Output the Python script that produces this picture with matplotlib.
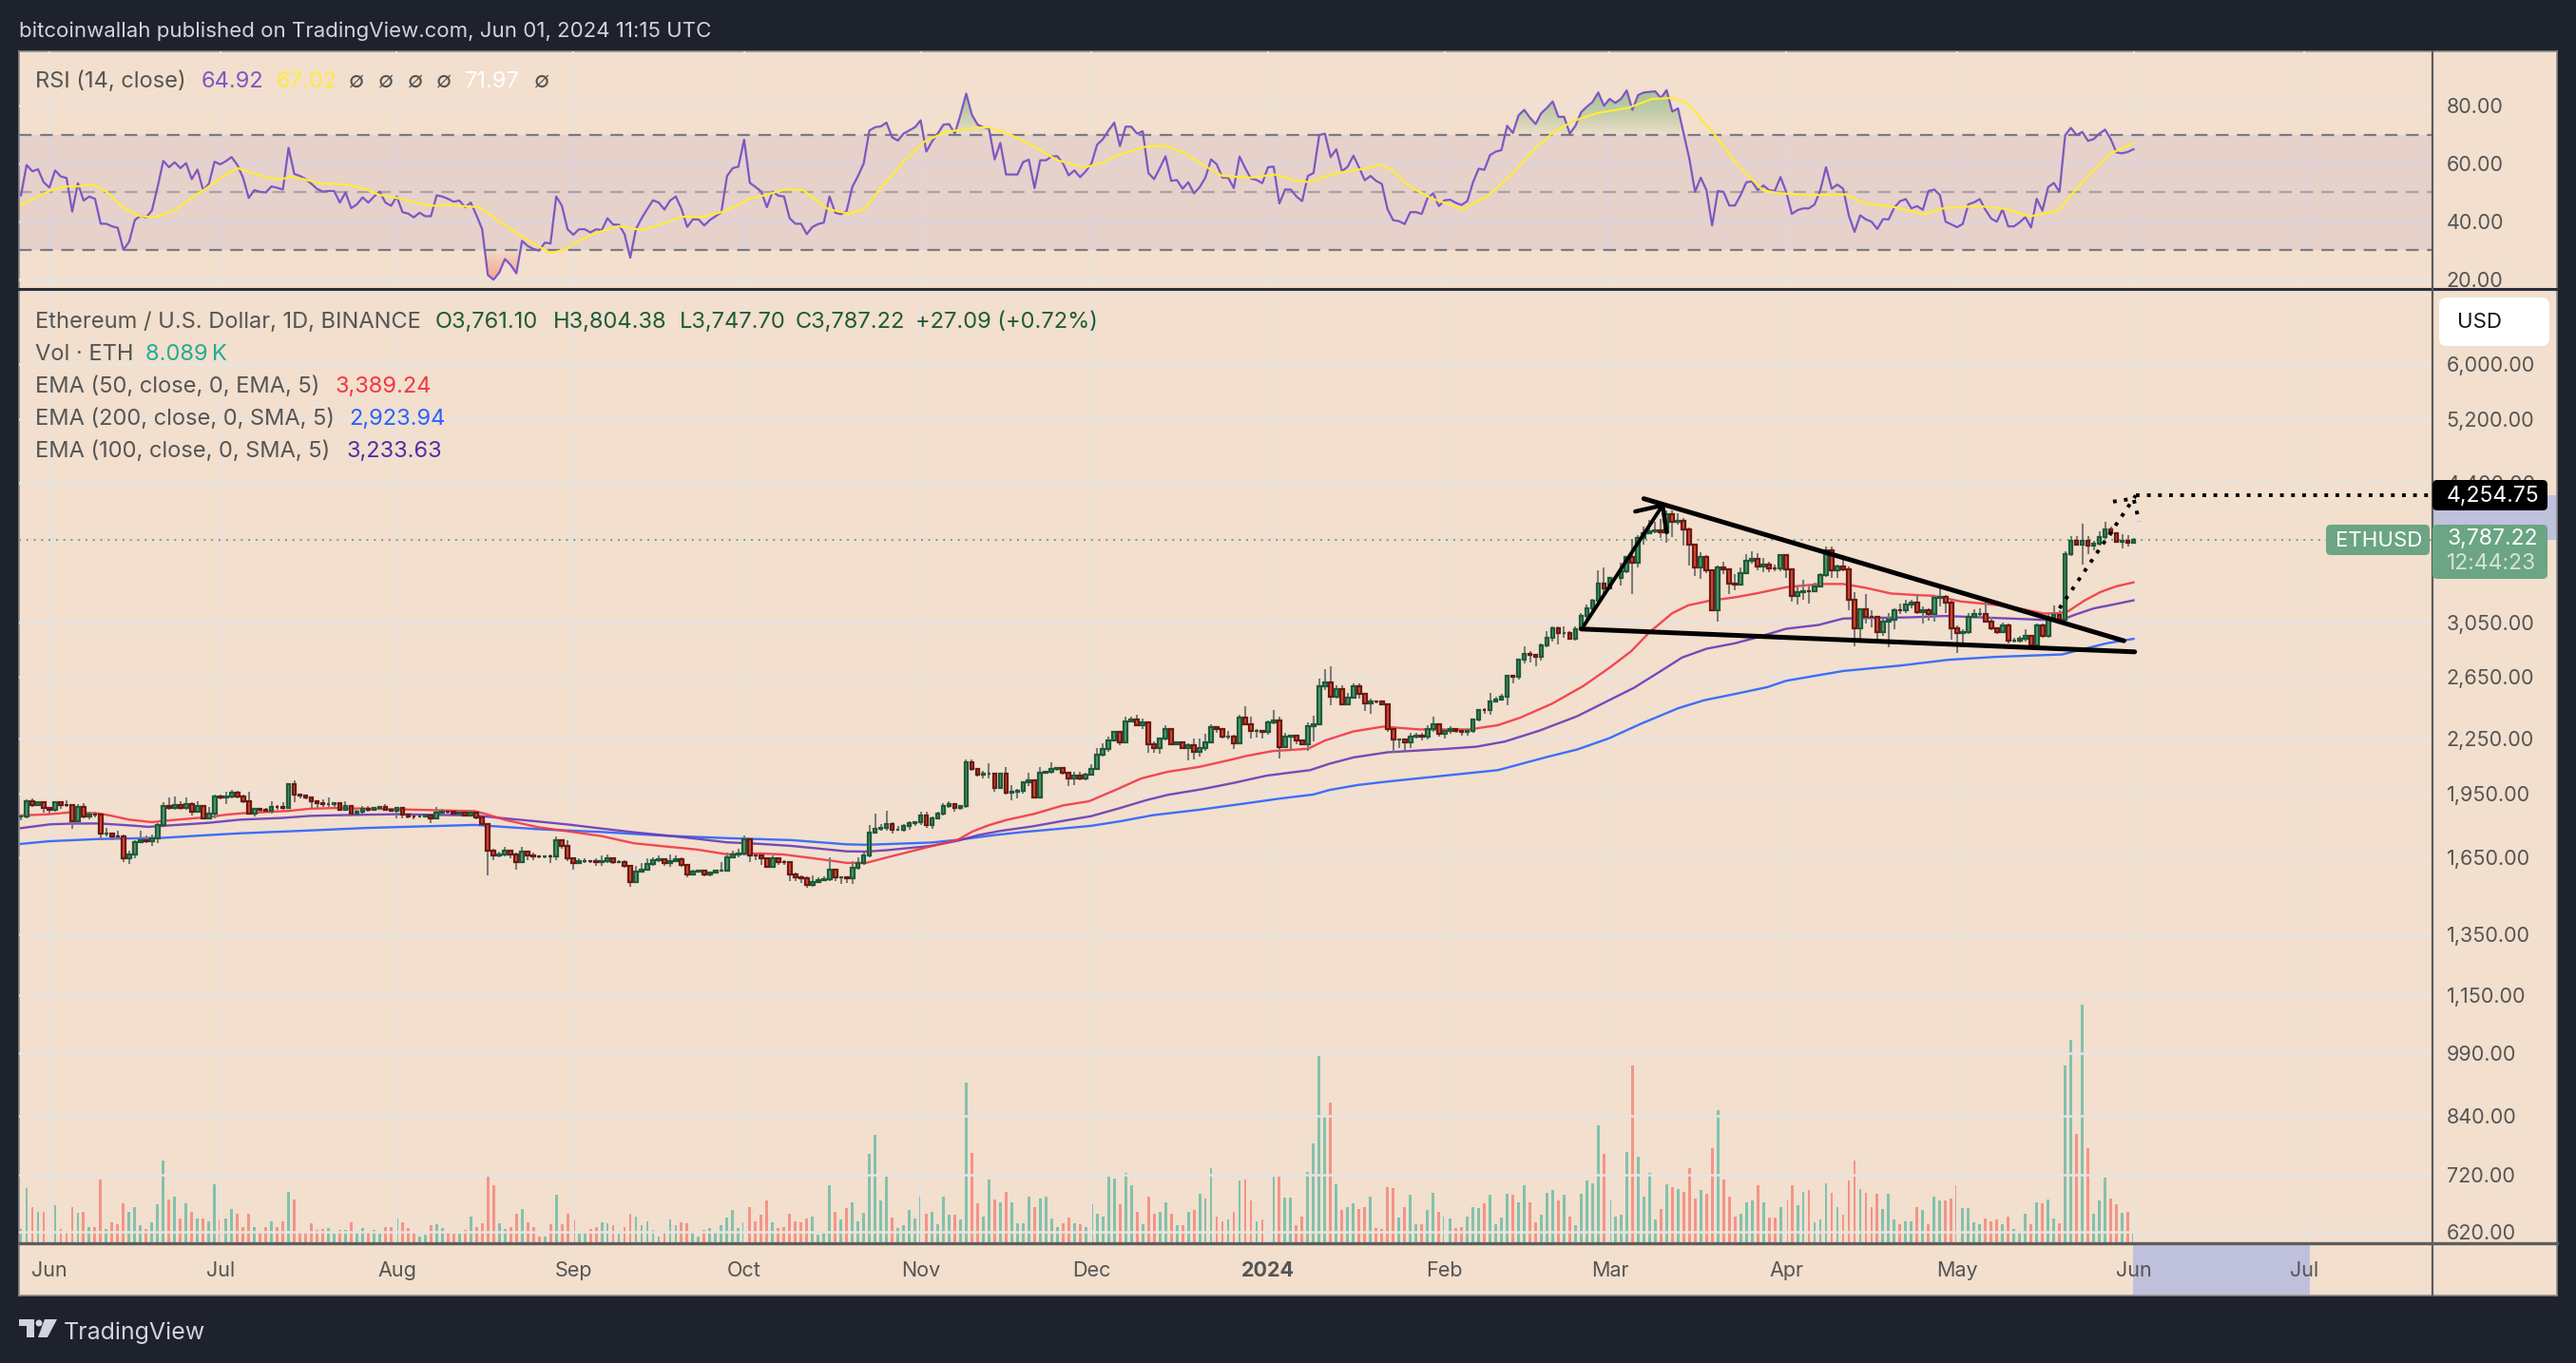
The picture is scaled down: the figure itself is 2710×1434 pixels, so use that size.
"""ETH/USD daily TradingView chart with RSI pane, EMAs, volume and wedge drawing."""

import numpy as np
import matplotlib
matplotlib.use("Agg")
import matplotlib.pyplot as plt
from matplotlib.patches import FancyBboxPatch, Polygon, Rectangle, Circle

plt.rcParams["font.family"] = ["Inter", "DejaVu Sans"]

W, H = 2710, 1434
DARK = "#1e222d"
PANE = "#f2dfcd"
GRID = "#e8e4df"
LABEL = "#555555"
UP_BODY, UP_EDGE = "#55996f", "#1e5b3a"
DOWN_BODY, DOWN_EDGE = "#d8493a", "#6b1a12"

# Day numbers count from 1 Jun 2023; the series runs 27 May 2023 .. 1 Jun 2024.
first_day = -5
first_open = 1835.0

closes = [
    1838, 1912, 1894, 1906, 1878, 1870, 1908, 1894, 1892, 1815,
    1882, 1835, 1848, 1846, 1755, 1757, 1745, 1743, 1647, 1665,
    1719, 1728, 1724, 1737, 1795, 1890, 1877, 1893, 1878, 1897,
    1861, 1888, 1830, 1852, 1935, 1932, 1938, 1953, 1935, 1912,
    1850, 1872, 1870, 1866, 1885, 1883, 1878, 1998, 1943, 1940,
    1932, 1912, 1900, 1897, 1899, 1900, 1870, 1888, 1852, 1860,
    1875, 1870, 1878, 1885, 1868, 1865, 1877, 1845, 1838, 1835,
    1838, 1840, 1830, 1855, 1860, 1858, 1853, 1854, 1843, 1856,
    1833, 1803, 1680, 1660, 1664, 1680, 1664, 1631, 1675, 1658,
    1655, 1653, 1656, 1654, 1725, 1700, 1645, 1627, 1635, 1635,
    1633, 1632, 1633, 1648, 1631, 1631, 1615, 1548, 1590, 1600,
    1623, 1640, 1642, 1625, 1635, 1642, 1620, 1578, 1590, 1595,
    1578, 1585, 1594, 1596, 1650, 1663, 1667, 1730, 1660, 1658,
    1648, 1609, 1645, 1632, 1630, 1578, 1565, 1563, 1537, 1548,
    1554, 1560, 1597, 1565, 1565, 1563, 1605, 1628, 1658, 1760,
    1778, 1785, 1800, 1775, 1776, 1790, 1805, 1810, 1842, 1797,
    1829, 1850, 1888, 1897, 1881, 1888, 2118, 2078, 2052, 2053,
    2055, 1978, 2053, 1957, 1960, 1964, 2010, 2020, 1933, 2060,
    2063, 2080, 2087, 2062, 2027, 2045, 2030, 2048, 2080, 2162,
    2190, 2240, 2290, 2232, 2353, 2365, 2335, 2350, 2220, 2198,
    2254, 2310, 2217, 2232, 2195, 2213, 2175, 2197, 2232, 2320,
    2308, 2262, 2265, 2225, 2377, 2340, 2297, 2300, 2292, 2350,
    2360, 2202, 2265, 2270, 2240, 2222, 2325, 2340, 2580, 2610,
    2516, 2565, 2466, 2505, 2585, 2530, 2468, 2485, 2480, 2465,
    2308, 2245, 2248, 2230, 2266, 2270, 2262, 2310, 2340, 2280,
    2300, 2310, 2300, 2295, 2297, 2368, 2430, 2425, 2485, 2495,
    2510, 2656, 2645, 2772, 2810, 2805, 2790, 2875, 2935, 3005,
    2968, 2970, 2925, 2995, 3108, 3170, 3230, 3378, 3335, 3425,
    3430, 3490, 3624, 3570, 3805, 3855, 3870, 3880, 3860, 4053,
    3973, 3980, 3895, 3737, 3520, 3625, 3500, 3155, 3525, 3510,
    3375, 3372, 3470, 3590, 3600, 3530, 3550, 3515, 3512, 3640,
    3505, 3273, 3305, 3315, 3312, 3350, 3451, 3688, 3500, 3530,
    3505, 3235, 3007, 3156, 3100, 3095, 2978, 3060, 3070, 3155,
    3150, 3195, 3215, 3135, 3155, 3120, 3253, 3260, 3215, 3005,
    2965, 2975, 3100, 3120, 3122, 3060, 3005, 2975, 3030, 2907,
    2910, 2925, 2945, 2875, 3030, 2945, 3090, 3110, 3070, 3651,
    3781, 3740, 3780, 3730, 3750, 3820, 3890, 3850, 3770, 3775,
    3761.10, 3787.22,
]

highs = [
    1845, 1920, 1927, 1912, 1912, 1885, 1912, 1912, 1918, 1897,
    1897, 1900, 1860, 1860, 1850, 1785, 1763, 1770, 1753, 1680,
    1725, 1770, 1750, 1752, 1804, 1905, 1932, 1935, 1912, 1930,
    1905, 1912, 1892, 1882, 1945, 1945, 1960, 1972, 1965, 1945,
    1958, 1875, 1877, 1877, 1910, 1893, 1905, 2005, 2020, 1946,
    1940, 1935, 1912, 1920, 1930, 1902, 1900, 1910, 1893, 1870,
    1890, 1890, 1885, 1890, 1896, 1878, 1882, 1882, 1850, 1845,
    1842, 1843, 1845, 1882, 1875, 1865, 1860, 1860, 1870, 1860,
    1850, 1835, 1805, 1690, 1675, 1695, 1682, 1670, 1695, 1680,
    1670, 1660, 1658, 1662, 1745, 1732, 1725, 1650, 1645, 1645,
    1640, 1645, 1660, 1665, 1652, 1640, 1640, 1620, 1615, 1625,
    1645, 1650, 1660, 1640, 1665, 1660, 1650, 1622, 1600, 1598,
    1595, 1590, 1600, 1630, 1670, 1680, 1690, 1750, 1735, 1668,
    1660, 1640, 1660, 1650, 1640, 1635, 1585, 1575, 1570, 1575,
    1565, 1570, 1650, 1600, 1570, 1570, 1635, 1650, 1670, 1797,
    1853, 1800, 1864, 1810, 1790, 1800, 1815, 1812, 1860, 1862,
    1835, 1860, 1900, 1910, 1895, 1892, 2132, 2135, 2080, 2070,
    2112, 2055, 2060, 2090, 1995, 1975, 2012, 2060, 2020, 2090,
    2070, 2118, 2090, 2090, 2065, 2065, 2065, 2060, 2105, 2195,
    2225, 2265, 2300, 2300, 2385, 2385, 2400, 2375, 2350, 2235,
    2260, 2330, 2315, 2235, 2235, 2225, 2255, 2250, 2280, 2340,
    2320, 2315, 2300, 2275, 2400, 2450, 2385, 2310, 2300, 2360,
    2430, 2385, 2285, 2275, 2270, 2245, 2350, 2390, 2637, 2700,
    2720, 2590, 2590, 2540, 2605, 2600, 2530, 2500, 2490, 2490,
    2465, 2310, 2255, 2250, 2285, 2285, 2285, 2330, 2383, 2340,
    2305, 2325, 2310, 2310, 2310, 2375, 2435, 2440, 2536, 2515,
    2535, 2660, 2660, 2775, 2870, 2830, 2810, 2890, 2985, 3020,
    3020, 3020, 2985, 3020, 3130, 3195, 3250, 3497, 3520, 3440,
    3450, 3570, 3635, 3800, 3835, 3920, 3990, 3970, 4000, 4090,
    4090, 4060, 4010, 3910, 3750, 3670, 3640, 3510, 3540, 3580,
    3510, 3460, 3520, 3650, 3680, 3660, 3610, 3575, 3550, 3650,
    3640, 3510, 3365, 3410, 3360, 3390, 3470, 3720, 3725, 3555,
    3640, 3530, 3300, 3170, 3287, 3150, 3100, 3080, 3130, 3165,
    3210, 3240, 3240, 3280, 3180, 3170, 3270, 3350, 3280, 3230,
    3030, 3000, 3125, 3160, 3170, 3225, 3100, 3010, 3050, 3040,
    2930, 2945, 3000, 2945, 3045, 3040, 3120, 3190, 3150, 3680,
    3830, 3830, 3950, 3830, 3780, 3870, 3975, 3920, 3865, 3840,
    3835, 3804.38,
]

lows = [
    1820, 1830, 1885, 1890, 1855, 1850, 1860, 1875, 1885, 1780,
    1808, 1830, 1825, 1833, 1725, 1745, 1725, 1730, 1630, 1622,
    1645, 1715, 1715, 1700, 1712, 1792, 1870, 1870, 1870, 1870,
    1842, 1855, 1822, 1825, 1830, 1920, 1897, 1928, 1928, 1900,
    1845, 1835, 1860, 1860, 1850, 1870, 1870, 1875, 1908, 1928,
    1920, 1880, 1880, 1885, 1882, 1885, 1865, 1865, 1837, 1850,
    1850, 1860, 1868, 1880, 1863, 1860, 1828, 1828, 1830, 1825,
    1835, 1835, 1807, 1828, 1850, 1850, 1845, 1845, 1840, 1845,
    1825, 1795, 1574, 1640, 1650, 1655, 1645, 1600, 1630, 1640,
    1640, 1645, 1645, 1625, 1640, 1690, 1635, 1600, 1625, 1625,
    1625, 1615, 1615, 1625, 1622, 1625, 1608, 1530, 1545, 1585,
    1595, 1615, 1630, 1615, 1610, 1632, 1610, 1565, 1575, 1585,
    1570, 1570, 1585, 1590, 1595, 1645, 1650, 1660, 1630, 1640,
    1620, 1608, 1605, 1620, 1620, 1550, 1550, 1545, 1525, 1528,
    1545, 1550, 1550, 1550, 1540, 1545, 1540, 1598, 1620, 1650,
    1755, 1770, 1770, 1755, 1770, 1765, 1775, 1790, 1795, 1785,
    1780, 1825, 1840, 1878, 1860, 1870, 1880, 2070, 2040, 2030,
    2028, 1960, 1980, 1945, 1915, 1925, 1950, 1990, 1930, 1932,
    2055, 2055, 2070, 2050, 1990, 1995, 2020, 2020, 2050, 2078,
    2150, 2175, 2235, 2215, 2225, 2350, 2330, 2310, 2170, 2170,
    2165, 2240, 2215, 2215, 2190, 2130, 2135, 2150, 2180, 2240,
    2285, 2255, 2245, 2190, 2225, 2335, 2255, 2260, 2255, 2275,
    2340, 2140, 2195, 2190, 2220, 2215, 2180, 2235, 2335, 2560,
    2458, 2500, 2465, 2465, 2500, 2500, 2420, 2405, 2470, 2460,
    2290, 2171, 2195, 2180, 2200, 2255, 2240, 2245, 2295, 2265,
    2250, 2280, 2285, 2270, 2270, 2285, 2355, 2405, 2400, 2475,
    2490, 2460, 2600, 2630, 2745, 2750, 2720, 2765, 2860, 2900,
    2880, 2930, 2915, 2910, 2985, 3070, 3140, 3210, 3295, 3330,
    3400, 3360, 3475, 3290, 3525, 3745, 3840, 3850, 3810, 3760,
    3820, 3945, 3730, 3540, 3450, 3420, 3470, 3150, 3060, 3460,
    3290, 3320, 3370, 3465, 3560, 3500, 3480, 3480, 3490, 3490,
    3425, 3220, 3200, 3240, 3210, 3320, 3345, 3440, 3430, 3430,
    3490, 3150, 2870, 2910, 3040, 3010, 2910, 2950, 2860, 3000,
    3120, 3130, 3170, 3120, 3040, 3065, 3060, 3180, 3130, 2915,
    2819, 2890, 2960, 3100, 3090, 3050, 2990, 2960, 2965, 2890,
    2895, 2895, 2900, 2860, 2865, 2930, 2935, 3070, 3060, 3045,
    3630, 3735, 3550, 3645, 3690, 3730, 3800, 3830, 3760, 3700,
    3720, 3747.70,
]

# volume, thousands of ETH
volumes = [
    11, 46, 30, 26, 26, 21, 31, 11, 9, 30,
    25, 26, 13, 13, 53, 11, 17, 15, 33, 26,
    30, 14, 11, 17, 32, 69, 36, 39, 20, 33,
    26, 20, 20, 18, 49, 19, 20, 28, 24, 13,
    24, 13, 9, 13, 18, 13, 18, 43, 36, 9,
    9, 16, 10, 11, 12, 7, 10, 10, 17, 8,
    12, 9, 10, 7, 13, 13, 20, 17, 12, 9,
    5, 6, 14, 15, 12, 9, 7, 7, 10, 22,
    13, 16, 56, 48, 16, 11, 13, 24, 28, 17,
    13, 5, 5, 15, 40, 15, 24, 19, 7, 9,
    11, 13, 17, 16, 14, 7, 13, 24, 22, 14,
    18, 10, 5, 8, 19, 14, 17, 16, 8, 5,
    10, 12, 9, 14, 21, 27, 12, 17, 30, 18,
    23, 35, 17, 12, 13, 24, 18, 17, 20, 22,
    6, 9, 48, 26, 19, 29, 34, 18, 25, 75,
    91, 35, 56, 21, 12, 14, 27, 20, 39, 24,
    26, 15, 39, 23, 23, 19, 136, 76, 33, 22,
    53, 36, 34, 43, 34, 16, 16, 39, 30, 37,
    39, 20, 13, 16, 21, 16, 15, 13, 32, 24,
    22, 56, 54, 32, 59, 48, 26, 15, 39, 24,
    26, 34, 24, 14, 14, 26, 27, 41, 37, 63,
    22, 18, 19, 26, 52, 53, 35, 18, 19, 18,
    56, 56, 38, 38, 14, 22, 60, 84, 158, 107,
    119, 49, 27, 30, 33, 28, 30, 39, 12, 11,
    47, 46, 21, 30, 40, 15, 15, 27, 42, 26,
    22, 20, 12, 13, 22, 30, 29, 33, 40, 15,
    21, 41, 40, 34, 48, 34, 17, 23, 42, 44,
    35, 40, 22, 14, 41, 52, 50, 99, 75, 35,
    22, 23, 77, 150, 73, 39, 59, 19, 28, 49,
    47, 45, 43, 63, 37, 44, 41, 80, 112, 53,
    39, 22, 24, 34, 35, 48, 34, 21, 21, 30,
    36, 48, 31, 43, 44, 17, 19, 50, 42, 30,
    23, 52, 69, 45, 42, 30, 41, 28, 41, 19,
    15, 18, 18, 30, 27, 15, 39, 35, 35, 37,
    48, 29, 29, 17, 15, 20, 18, 19, 15, 22,
    11, 9, 24, 15, 34, 33, 36, 20, 16, 150,
    172, 92, 202, 80, 24, 35, 55, 37, 32, 25,
    26, 8.089,
]

rsi = [
    49, 59.5, 57.3, 58, 53.5, 51.7, 57.6, 55.5, 55, 43.4,
    53.2, 47.2, 48.6, 47.8, 39.2, 39.2, 38.3, 37.8, 30.2, 33,
    40.5, 42, 41.4, 43.8, 51.9, 60.9, 58.7, 60.4, 58.4, 60.1,
    54.6, 57.9, 50.8, 53, 60.6, 59.7, 60.8, 62.2, 59.5, 55.1,
    48.1, 50.8, 50.2, 50, 52.1, 51.6, 51, 65.4, 56.4, 55.7,
    54.6, 53, 51.2, 50.3, 50.5, 50.5, 46.5, 50, 44.6, 45.9,
    48.3, 46.5, 48.6, 50.3, 46.5, 45.4, 48.6, 43.2, 42.7, 41.4,
    43, 41.8, 41.8, 49, 48.6, 47.8, 46.8, 47.2, 44.9, 46.5,
    42.1, 37.3, 21.5, 19.9, 22.4, 27, 25, 22.1, 33.3, 31.5,
    30.5, 29.9, 32.7, 32.4, 48.6, 45.4, 37.3, 35.4, 37.3, 37.3,
    36.2, 37.3, 37, 41.1, 38.9, 38.9, 35.6, 27.5, 37.3, 41.1,
    44.3, 47.3, 46.5, 44.1, 47.2, 48.6, 44.3, 38.1, 40.7, 40.7,
    38.6, 40.5, 41.8, 43.2, 55.7, 58.4, 58.9, 68.2, 53.3, 51.9,
    50.3, 44.9, 50.3, 48.9, 48.6, 41.1, 39.2, 39.2, 35.6, 38.1,
    39.1, 39.6, 48.6, 43, 42.5, 43.6, 51.9, 55.7, 60, 71.4,
    72.5, 72.8, 74.1, 69, 67.9, 70.3, 71.4, 72.5, 74.9, 64.1,
    67.6, 70.3, 73.4, 73.6, 70.3, 76.8, 84.1, 76.8, 73.4, 72.5,
    72, 61.4, 67.1, 56.2, 56.2, 56.2, 60.5, 61.3, 51.5, 61.1,
    61.1, 62.4, 62.5, 60, 55.9, 57.6, 55.3, 57.3, 60, 66.5,
    68.4, 71.4, 74.1, 66, 72.7, 72.7, 70.3, 71.1, 56.7, 54.6,
    58.4, 62.5, 54, 54.3, 51.3, 53.5, 49.7, 51.8, 55.1, 61.4,
    59.7, 55.1, 55.1, 51.5, 62.4, 58.4, 54.8, 54.3, 53.2, 58.7,
    58.9, 46.2, 51, 51, 48.6, 47, 55.7, 56.7, 69.8, 70.3,
    62.2, 64.9, 57.3, 58.9, 62.7, 58.6, 54.2, 55.7, 54, 52.9,
    44.2, 40.4, 40.1, 39.1, 43.2, 43.2, 42.6, 48, 49.7, 45.3,
    47.3, 47.5, 46.4, 45.7, 47, 53.5, 58.2, 57.8, 62.9, 64.1,
    64.6, 73, 70.5, 76.6, 78.5, 75.8, 73.6, 77.4, 79.2, 81.4,
    76.1, 76.1, 70.3, 73, 77.7, 79.6, 81.2, 84.5, 79.9, 82.3,
    80.9, 82.3, 85.2, 78.5, 83.6, 84.5, 84.7, 84.9, 82.6, 85.3,
    77.9, 79, 70.3, 61.6, 50.2, 55.1, 50.8, 38.6, 50.5, 50.2,
    45.5, 45.5, 49.1, 53.5, 53.8, 50.8, 52.4, 50.8, 50.5, 55.3,
    50.2, 42.6, 43.9, 44.5, 44.5, 45.9, 50.8, 58.7, 51.3, 52.7,
    51.3, 42.1, 36.4, 42.1, 40.7, 39.9, 37.4, 40.8, 40.7, 44.8,
    47, 47.7, 44.5, 45.3, 44, 50.5, 51, 49.1, 39.9, 39,
    38, 39.1, 45.9, 46.6, 47.7, 44, 41, 39.9, 44.2, 38.3,
    38.3, 39.7, 41.5, 37.9, 47.8, 43.7, 51.8, 53.3, 50.2, 69.8,
    72.3, 69.8, 70.9, 67.8, 68.4, 70.3, 71.7, 68.4, 63.8, 63.5,
    64, 64.92,
]

# RSI moving average, read at its bends
rsi_ma_days = [
    -5, -2.3, 0.4, 3, 5.2, 7.8, 10, 12.6, 15.3, 18, 20, 22.2, 24.9, 27.5, 30.7, 33,
    35.5, 38.2, 40.8, 42.4, 44.6, 47.8, 52, 55.2, 57.9, 61, 63.7, 66.9, 70.1, 75.5,
    79.7, 84, 88, 90.4, 92.5, 96.2, 100, 104.2, 107.4, 111.1, 114.9, 118, 120.7,
    122.8, 126, 129.2, 132.4, 136.7, 140.4, 143.1, 145.7, 150, 153.7, 157.5, 162.5,
    165, 168.7, 172.8, 177, 181.8, 185.3, 187.4, 192.2, 196, 199.1, 202.6, 206,
    210.9, 215.3, 218.5, 221, 226.1, 230.3, 233.7, 235.8, 238.6, 242.7, 248.3,
    252.4, 256.6, 260.7, 264.2, 267.7, 271.8, 277.3, 281.5, 285, 287.7, 291.9,
    296.7, 300.9, 303.7, 309.2, 315.4, 318.9, 324.4, 329.3, 332.7, 339, 343.8,
    347.7, 352.8, 356.2, 361.8, 366,
]
rsi_ma_vals = [
    45.6, 48.4, 50.8, 52.1, 52.1, 52.8, 50.3, 45.4, 42.1, 41.4, 42.4, 44, 48.1, 51.4,
    55.7, 58.4, 56.8, 55.1, 54.6, 55.5, 54.6, 53, 52.8, 51.4, 49.2, 48.1, 46.8, 45.4,
    45.6, 44.9, 39.1, 33.5, 29.1, 30.2, 32.9, 36.2, 38.3, 37, 39.1, 41.6, 41.6, 43.2,
    45.4, 47.8, 49.2, 51.1, 50.8, 44.3, 42.7, 44.3, 50.8, 60.6, 67.6, 70.9, 72.3,
    72.5, 70, 66, 61.1, 58.6, 60.5, 62.7, 65.7, 66.2, 63.8, 59.5, 55.7, 55.1, 56.2,
    54.2, 53.6, 56.7, 58, 59.5, 57.8, 52.4, 48, 44.2, 48.6, 55.7, 64.9, 70.9, 74.7,
    77.4, 79.2, 82.3, 82.6, 80.7, 71.4, 58.9, 50.8, 49.7, 49.1, 49.3, 46.2, 44.8,
    42.4, 44.6, 45.3, 44.2, 41.7, 43.7, 51.8, 63.3, 67.02,
]

# moving averages, read at their bends
ema50_days = [
    -5, 0, 3.6, 8.6, 11, 14, 18, 20.8, 24.7, 28, 30.8, 33.5, 39, 42, 45.8, 50, 55.8, 61,
    67, 74.7, 76.4, 80, 85.9, 91.4, 97, 102.6, 108, 113.7, 119, 124.8, 129, 136, 140,
    143.4, 147, 154.8, 159.5, 162, 164.8, 168, 173, 178, 182.6, 187.6, 191.7, 196.4,
    202, 207.6, 210.3, 214.8, 221, 224, 229, 234.2, 240.6, 249.4, 254.4, 258.3, 263.9,
    269.4, 273.9, 277.8, 281, 285, 287.8, 291.7, 296, 300, 305, 311, 315, 319, 323.4,
    328, 330.7, 335.7, 341.3, 344.6, 350.2, 353, 354.6, 357.4, 360.2, 363, 366,
]
ema50_vals = [
    1842, 1848, 1857, 1852, 1840, 1822, 1810, 1818, 1827, 1834, 1845, 1852, 1860, 1864,
    1875, 1878, 1875, 1872, 1868, 1863, 1851, 1821, 1786, 1766, 1745, 1713, 1699, 1685,
    1664, 1668, 1663, 1641, 1627, 1627, 1650, 1699, 1728, 1765, 1794, 1820, 1850, 1891,
    1912, 1974, 2029, 2065, 2092, 2132, 2153, 2180, 2193, 2241, 2295, 2324, 2307, 2307,
    2333, 2379, 2468, 2585, 2709, 2831, 2975, 3127, 3192, 3232, 3259, 3295, 3347, 3375,
    3375, 3341, 3292, 3278, 3273, 3224, 3198, 3179, 3124, 3127, 3145, 3232, 3305, 3355,
    3389.24,
]
ema100_days = [
    -5, 0.2, 3.6, 8.6, 14, 17.4, 22.4, 28, 33.5, 40.8, 45.8, 50, 61, 74.7, 80, 85.9,
    91.4, 97, 102.6, 108, 113.7, 119, 124.8, 130.3, 136, 140, 143.6, 147, 154.8, 159.5,
    163, 167, 172.6, 178, 183, 188, 192.6, 196.4, 202.6, 208, 213.7, 217, 221.4, 224.8,
    229, 235, 245, 250.6, 255.6, 261.7, 268.3, 273.9, 278.3, 282.8, 286.7, 291, 296,
    300, 305, 310.7, 315, 319.6, 326.8, 332.9, 339, 344.6, 350, 353.5, 355.7, 359,
    362.4, 366,
]
ema100_vals = [
    1782, 1800, 1803, 1804, 1795, 1788, 1797, 1807, 1822, 1830, 1840, 1843, 1848, 1842,
    1828, 1813, 1798, 1780, 1763, 1749, 1733, 1717, 1710, 1701, 1687, 1677, 1676, 1682,
    1701, 1724, 1749, 1769, 1790, 1816, 1839, 1878, 1917, 1944, 1974, 2006, 2044, 2057,
    2074, 2109, 2144, 2173, 2192, 2205, 2235, 2300, 2388, 2490, 2573, 2683, 2784, 2849,
    2890, 2936, 3002, 3032, 3083, 3088, 3093, 3104, 3093, 3083, 3073, 3075, 3114, 3166,
    3198, 3233.63,
]
ema200_days = [
    -5, 0, 8.6, 19.7, 28, 33.5, 44.7, 55.8, 74.7, 85.9, 97, 108, 119, 130.3, 140, 143.6,
    154.8, 159.5, 166, 171.4, 177, 183, 188, 193.7, 202, 210.3, 216, 222, 224.8, 229.8,
    235, 254.4, 262.8, 268.3, 273.9, 279.4, 286, 290.6, 296, 301.7, 305, 315, 325.2,
    333.5, 341.8, 353.5, 355.7, 361.3, 366,
]
ema200_vals = [
    1710, 1722, 1732, 1737, 1750, 1758, 1770, 1783, 1797, 1777, 1764, 1747, 1736, 1727,
    1708, 1706, 1716, 1728, 1750, 1765, 1778, 1793, 1814, 1843, 1870, 1902, 1925, 1946,
    1969, 1995, 2013, 2074, 2145, 2189, 2254, 2340, 2438, 2490, 2531, 2577, 2620, 2688,
    2727, 2768, 2789, 2807, 2831, 2890, 2923.94,
]

price_ticks = [6000, 5200, 4400, 3050, 2650, 2250, 1950, 1650, 1350, 1150, 990, 840, 720, 620]
rsi_ticks = [80, 60, 40, 20]
month_days = [0, 30, 61, 92, 122, 153, 183, 214, 245, 274, 305, 335, 366, 396]
month_labels = ["Jun", "Jul", "Aug", "Sep", "Oct", "Nov", "Dec", "2024",
                "Feb", "Mar", "Apr", "May", "Jun", "Jul"]

# hand-drawn wedge, arrow and projection
wedge_top = ([280, 364.3], [4219, 2909])
wedge_bottom = ([269, 366.2], [3000, 2826])
arrow_shaft = ([269.5, 283.3], [3028, 4146])
arrow_head = ([278.5, 283.3, 284], [4080, 4146, 3864])
projection = ([353, 366.4], [3167, 4254.75])
projection_tail = ([362.4, 366, 367], [4186, 4220, 3973])
target_price = 4254.75
last_price = 3787.22


def panel(x0, y0, x1, y1):
    """Axes placed by pixel box, with y measured from the top of the figure."""
    return fig.add_axes([x0 / W, 1 - y1 / H, (x1 - x0) / W, (y1 - y0) / H])


fig = plt.figure(figsize=(W / 100, H / 100), dpi=100, facecolor=DARK)

frame = panel(20, 54, 2690, 1363)
frame.set_facecolor(PANE)
frame.set_xticks([])
frame.set_yticks([])
for s in frame.spines.values():
    s.set_color("#8a8a8a")
    s.set_linewidth(1.2)
frame.set_zorder(0)

days = np.arange(first_day, first_day + len(closes))
opens = np.array([first_open] + closes[:-1])
closes_arr = np.array(closes)
up = closes_arr >= opens
rsi_arr = np.array(rsi)
xlim = (-5.34, 418.5)

# RSI pane
ax_rsi = panel(20, 54, 2559, 304)
ax_rsi.patch.set_visible(False)
ax_rsi.set_zorder(2)
ax_rsi.set_xlim(*xlim)
ax_rsi.set_ylim(16.7, 98.7)
ax_rsi.set_xticks(month_days)
ax_rsi.set_yticks(rsi_ticks)
ax_rsi.set_yticklabels([f"{v:.2f}" for v in rsi_ticks])
ax_rsi.yaxis.tick_right()
ax_rsi.tick_params(axis="y", length=0, pad=10.5, labelsize=15.5, labelcolor=LABEL)
ax_rsi.tick_params(axis="x", length=0, labelbottom=False)
ax_rsi.grid(True, axis="x", color=GRID, lw=1.4)
ax_rsi.grid(True, axis="y", color=GRID, lw=1.8)
ax_rsi.set_axisbelow(True)
for s in ax_rsi.spines.values():
    s.set_visible(False)
ax_rsi.axhspan(30, 70, color="#7e57c2", alpha=0.1, lw=0)
ax_rsi.axhline(70, color="#787b86", lw=1.6, dashes=(6, 4))
ax_rsi.axhline(50, color="#787b86", lw=1.6, dashes=(6, 4), alpha=0.55)
ax_rsi.axhline(30, color="#787b86", lw=1.6, dashes=(6, 4))
for lv in np.arange(70, 86, 1.0):
    ax_rsi.fill_between(days, lv, rsi_arr, where=rsi_arr > lv, interpolate=True,
                        color="#7fb878", alpha=0.06, lw=0)
for lv in np.arange(30, 19, -1.0):
    ax_rsi.fill_between(days, lv, rsi_arr, where=rsi_arr < lv, interpolate=True,
                        color="#f2816f", alpha=0.07, lw=0)
ax_rsi.plot(days, rsi_arr, color="#7e57c2", lw=1.6)
ax_rsi.plot(rsi_ma_days, rsi_ma_vals, color="#ffeb3b", lw=1.6)

# volume sits behind the candles on its own scale
ax_price = panel(20, 306, 2559, 1308)
ax_vol = ax_price.twinx()
ax_vol.set_zorder(1)
ax_vol.set_ylim(-1, 809.6)
ax_vol.set_yticks([])
ax_vol.patch.set_visible(False)
for s in ax_vol.spines.values():
    s.set_visible(False)
ax_vol.bar(days, volumes, width=0.48, lw=0,
           color=np.where(up, "#82c1ae", "#f39488"))

# price pane
ax_price.set_zorder(2)
ax_price.patch.set_visible(False)
ax_price.set_yscale("log")
ax_price.set_ylim(601.6, 7266)
ax_price.set_xlim(*xlim)
ax_price.set_yticks(price_ticks)
ax_price.set_yticklabels([f"{v:,.2f}" for v in price_ticks])
ax_price.minorticks_off()
ax_price.yaxis.tick_right()
ax_price.tick_params(axis="y", length=0, pad=10.5, labelsize=15.5, labelcolor=LABEL)
ax_price.set_xticks(month_days)
ax_price.set_xticklabels(month_labels)
ax_price.tick_params(axis="x", length=0, pad=14, labelsize=15.5, labelcolor=LABEL)
ax_price.get_xticklabels()[7].set_fontweight("bold")
ax_price.grid(True, axis="x", color=GRID, lw=1.4)
ax_price.grid(True, axis="y", color=GRID, lw=1.8)
ax_price.set_axisbelow(True)
for s in ax_price.spines.values():
    s.set_visible(False)

ax_price.axhline(last_price, color="#6ba583", lw=1.4, ls=(0, (1, 3)), zorder=1.5)
ax_price.plot(ema200_days, ema200_vals, color="#2962ff", lw=1.7, alpha=0.9, zorder=2)
ax_price.plot(ema100_days, ema100_vals, color="#673ab7", lw=1.7, alpha=0.9, zorder=2)
ax_price.plot(ema50_days, ema50_vals, color="#f23645", lw=1.7, alpha=0.9, zorder=2)

ax_price.vlines(days, lows, highs, color="#7a7a7a", lw=1.5, zorder=3)
body_low = np.minimum(opens, closes_arr)
body_size = np.abs(closes_arr - opens)
ax_price.bar(days[up], body_size[up], bottom=body_low[up], width=0.62,
             color=UP_BODY, edgecolor=UP_EDGE, lw=1.6, zorder=4)
ax_price.bar(days[~up], body_size[~up], bottom=body_low[~up], width=0.62,
             color=DOWN_BODY, edgecolor=DOWN_EDGE, lw=1.6, zorder=4)

ax_price.plot(*wedge_top, color="black", lw=3.6, solid_capstyle="round", zorder=5)
ax_price.plot(*wedge_bottom, color="black", lw=3.6, solid_capstyle="round", zorder=5)
ax_price.plot(*arrow_shaft, color="black", lw=2.8, solid_capstyle="round", zorder=5)
ax_price.plot(*arrow_head, color="black", lw=3.2, solid_capstyle="round", zorder=5)
dotted = (0, (1, 2))
ax_price.plot(*projection, color="black", lw=2.8, ls=dotted, zorder=5)
ax_price.plot(*projection_tail, color="black", lw=2.8, ls=dotted, zorder=5)
ax_price.plot([366.4, xlim[1]], [target_price, target_price], color="black", lw=2.8,
              ls=dotted, zorder=5)

# interface chrome, drawn in figure pixels
ui = fig.add_axes([0, 0, 1, 1], zorder=5)
ui.set_xlim(0, W)
ui.set_ylim(H, 0)
ui.axis("off")


def label(x, y, s, color=LABEL, size=17, **kw):
    ui.text(x, y, s, color=color, fontsize=size, va="center", **kw)


def rounded(x0, y0, x1, y1, color, rad=5, z=2):
    ui.add_patch(FancyBboxPatch((x0, y0), x1 - x0, y1 - y0,
                                boxstyle=f"round,pad=0,rounding_size={rad}",
                                fc=color, ec="none", zorder=z))


# pane rules
ui.plot([20, 2690], [304, 304], color="#2a2e39", lw=2.2)
ui.plot([20, 2690], [1308, 1308], color="#5d5d5d", lw=2.4)
ui.plot([2559, 2559], [54, 1363], color="#5d5d5d", lw=1.6)
frame.add_patch(Rectangle((2244, 1309), 186, 53, fc="#bfc0dc", ec="none", transform=ui.transData))
frame.add_patch(Rectangle((2560, 521), 130, 47, fc="#bfc1dd", ec="none", transform=ui.transData))

# price tags
rounded(2559, 505, 2680, 537, "black", z=3)
label(2574, 522, "4,254.75", color="white", size=16.5, zorder=4)
rounded(2559, 552, 2680, 609, "#6ba583", z=3)
label(2574, 567, "3,787.22", color="white", size=16.5, zorder=4)
label(2574, 593, "12:44:23", color="#d3e4d8", size=16.5, zorder=4)
rounded(2447, 552, 2556, 584, "#6ba583", z=3)
label(2457, 569, "ETHUSD", color="white", size=16, zorder=4)
rounded(2566, 313, 2682, 364, "white", rad=8, z=3)
label(2585, 339, "USD", color="#131722", size=16, zorder=4)

# title and footer
label(20, 33, "bitcoinwallah published on TradingView.com, Jun 01, 2024 11:15 UTC",
      color="#d1d4dc", size=16)
label(67, 1402, "TradingView", color="#d1d4dc", size=18)
ui.add_patch(Polygon([(20, 1388), (36, 1388), (36, 1407), (28, 1407), (28, 1395), (20, 1395)],
                     fc="#d1d4dc", ec="none"))
ui.add_patch(Circle((41, 1392), 3.5, fc="#d1d4dc", ec="none"))
ui.add_patch(Polygon([(47, 1388), (60, 1388), (50, 1407), (40, 1407)], fc="#d1d4dc", ec="none"))

# RSI legend
label(37, 86, "RSI (14, close)")
label(212, 86, "64.92", color="#7e57c2")
label(291, 86, "67.02", color="#ffeb3b")
for x in (367, 398, 429, 459, 562):
    label(x, 86, "\u2205")
label(489, 86, "71.97", color="white")

# price legend
label(37, 339, "Ethereum / U.S. Dollar, 1D, BINANCE")
for x, s in [(458, "O3,761.10"), (582, "H3,804.38"), (715, "L3,747.70"),
             (837, "C3,787.22"), (963, "+27.09 (+0.72%)")]:
    label(x, 339, s, color="#1e5b3a")
label(37, 373, "Vol \u00b7 ETH")
label(153, 373, "8.089\u2009K", color="#22ab94")
label(37, 407, "EMA (50, close, 0, EMA, 5)")
label(352, 407, "3,389.24", color="#f23645")
label(37, 441, "EMA (200, close, 0, SMA, 5)")
label(367, 441, "2,923.94", color="#2962ff")
label(37, 475, "EMA (100, close, 0, SMA, 5)")
label(364, 475, "3,233.63", color="#512da8")

fig.savefig("out.png", dpi=100, facecolor=DARK)
